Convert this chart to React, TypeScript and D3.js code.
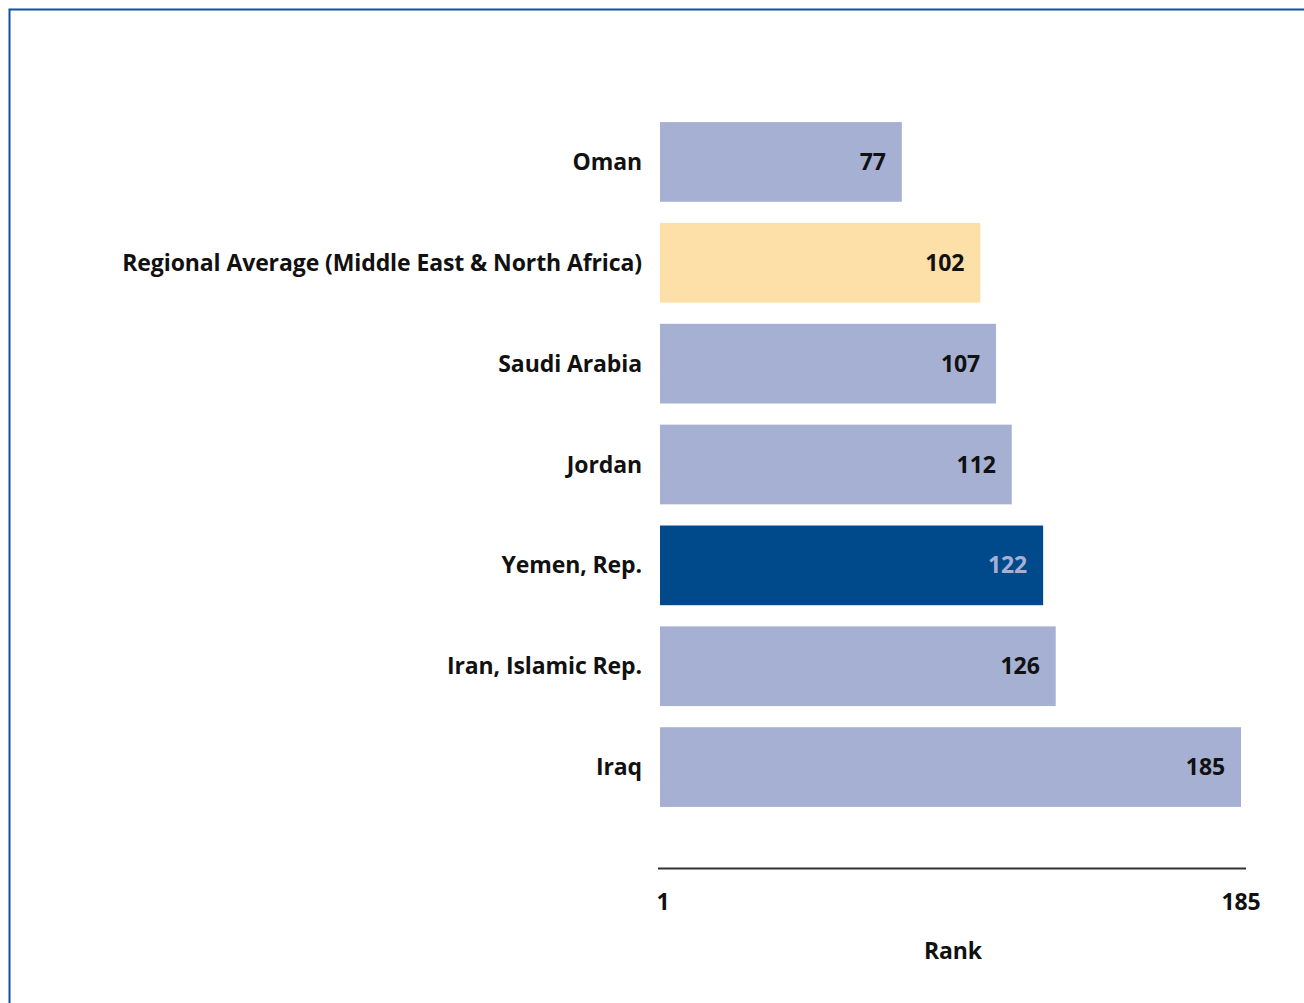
import React from "react";
import * as d3 from "d3";

const categories = [
  "Oman",
  "Regional Average (Middle East & North Africa)",
  "Saudi Arabia",
  "Jordan",
  "Yemen, Rep.",
  "Iran, Islamic Rep.",
  "Iraq",
];
const ranks = [77, 102, 107, 112, 122, 126, 185];
const kinds = ["other", "region", "other", "other", "focus", "other", "other"];
const axisTicks = [1, 185];
const axisTitle = "Rank";

const FONT = "'Open Sans', 'DejaVu Sans', sans-serif";
const FS = 23;
const LS = -0.1;

export default function App() {
  const W = 1304, H = 1003;
  const x = d3.scaleLinear().domain([0, 185]).range([660, 1241]);
  const y = d3
    .scaleBand<string>()
    .domain(categories)
    .range([111.5, 817.5])
    .paddingInner(0.21)
    .paddingOuter(0.105);

  const fill = (k: string) =>
    k === "region" ? "#fddfa8" : k === "focus" ? "#004a8c" : "#a5b0d3";
  const labelFill = (k: string) => (k === "focus" ? "#a5b0d3" : "#111");

  const textProps = {
    fontFamily: FONT,
    fontWeight: 700,
    fontSize: FS,
    letterSpacing: LS,
  };

  return (
    <svg
      width={W}
      height={H}
      style={{ position: "absolute", left: 0, top: 0, background: "#fff" }}
    >
      <path d={`M9.5,${H} V9.5 H${W}`} fill="none" stroke="#11509b" strokeWidth={2} />
      {categories.map((c, i) => {
        const y0 = y(c)!;
        const bw = y.bandwidth();
        return (
          <g key={c}>
            <rect x={x(0)} y={y0} width={x(ranks[i]) - x(0)} height={bw} fill={fill(kinds[i])} />
            <text
              x={642}
              y={y0 + bw / 2}
              dy="0.35em"
              textAnchor="end"
              fill="#111"
              {...textProps}
            >
              {c}
            </text>
            <text
              x={x(ranks[i]) - 16}
              y={y0 + bw / 2}
              dy="0.35em"
              textAnchor="end"
              fill={labelFill(kinds[i])}
              {...textProps}
            >
              {ranks[i]}
            </text>
          </g>
        );
      })}
      <line x1={658} x2={1246} y1={868.5} y2={868.5} stroke="#333" strokeWidth={2} />
      {axisTicks.map((t) => (
        <text
          key={t}
          x={x(t)}
          y={902}
          dy="0.35em"
          textAnchor="middle"
          fill="#111"
          {...textProps}
        >
          {t}
        </text>
      ))}
      <text x={953} y={951} dy="0.35em" textAnchor="middle" fill="#111" {...textProps}>
        {axisTitle}
      </text>
    </svg>
  );
}
